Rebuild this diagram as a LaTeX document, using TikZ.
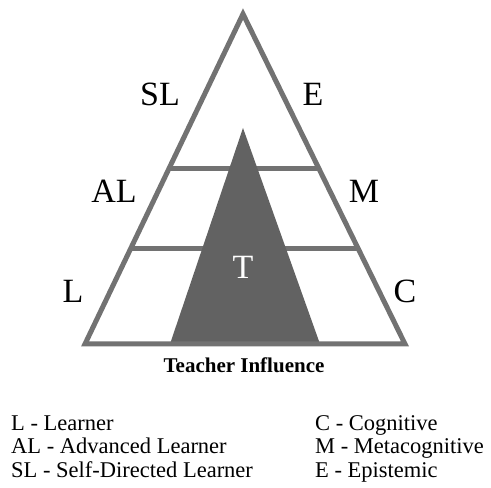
\documentclass[tikz,border=0pt]{standalone}
\usepackage{fontspec}
\setmainfont{Liberation Serif}
\usetikzlibrary{calc}
\definecolor{edgegray}{HTML}{727272}
\definecolor{teachgray}{HTML}{626262}

\begin{document}
\begin{tikzpicture}[x=1pt,y=1pt,
    tlabel/.style={font=\fontsize{34}{34}\selectfont,anchor=base,inner sep=0pt},
    legend/.style={font=\fontsize{22.5}{23}\selectfont,anchor=base west,inner sep=0pt}]
  \useasboundingbox (0,0) rectangle (491,488);
  % outer triangle
  \coordinate (top) at (243,474);
  \coordinate (bl) at (85,144);
  \coordinate (br) at (405,144);
  % level lines
  \coordinate (l1a) at ($(bl)!0.2879!(top)$);
  \coordinate (l1b) at ($(br)!0.2879!(top)$);
  \coordinate (l2a) at ($(bl)!0.5303!(top)$);
  \coordinate (l2b) at ($(br)!0.5303!(top)$);
  \draw[edgegray,line width=5pt] (l1a) -- (l1b);
  \draw[edgegray,line width=5pt] (l2a) -- (l2b);
  % teacher triangle
  \coordinate (ttop) at (243,360);
  \coordinate (tbl) at (170,144);
  \coordinate (tbr) at (320,144);
  \fill[teachgray] (tbl) -- (ttop) -- (tbr) -- cycle;
  \draw[edgegray,line width=5pt,line join=miter] (bl) -- (top) -- (br) -- cycle;
  \node[tlabel,white] (t) at (243,209) {T};
  % side labels
  \node[tlabel] (sl) at (160,382) {SL};
  \node[tlabel] (e) at (313,382) {E};
  \node[tlabel] (al) at (114,285) {AL};
  \node[tlabel] (m) at (364,285) {M};
  \node[tlabel] (l) at (73,185) {L};
  \node[tlabel] (c) at (405,185) {C};
  \node[font=\fontsize{21}{21}\selectfont\bfseries,anchor=base,inner sep=0pt] (infl) at (244,115) {Teacher Influence};
  % legend
  \node[legend] (leg1) at (11,57) {L - Learner};
  \node[legend] (leg2) at (11,34) {AL - Advanced Learner};
  \node[legend] (leg3) at (11,10) {SL - Self-Directed Learner};
  \node[legend] (leg4) at (315,57) {C - Cognitive};
  \node[legend] (leg5) at (315,34) {M - Metacognitive};
  \node[legend] (leg6) at (315,10) {E - Epistemic};
\end{tikzpicture}
\end{document}
